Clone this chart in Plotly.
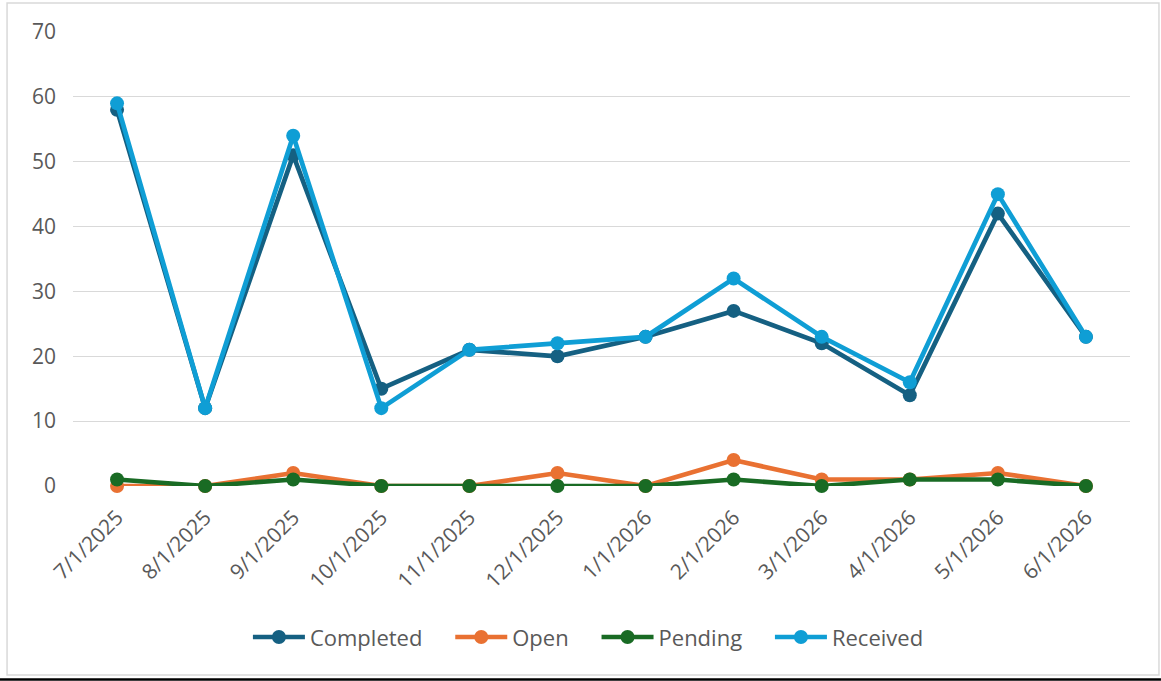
import plotly.graph_objects as go

categories = ["7/1/2025", "8/1/2025", "9/1/2025", "10/1/2025", "11/1/2025", "12/1/2025",
              "1/1/2026", "2/1/2026", "3/1/2026", "4/1/2026", "5/1/2026", "6/1/2026"]
completed = [58, 12, 51, 15, 21, 20, 23, 27, 22, 14, 42, 23]
open_ = [0, 0, 2, 0, 0, 2, 0, 4, 1, 1, 2, 0]
pending = [1, 0, 1, 0, 0, 0, 0, 1, 0, 1, 1, 0]
received = [59, 12, 54, 12, 21, 22, 23, 32, 23, 16, 45, 23]
y_ticks = [0, 10, 20, 30, 40, 50, 60, 70]

series = [
    ("Completed", completed, "#156082"),
    ("Open", open_, "#E97132"),
    ("Pending", pending, "#196B24"),
    ("Received", received, "#0F9ED5"),
]

pad = "\u00a0" * 4
fig = go.Figure()
for name, vals, color in series:
    fig.add_trace(go.Scatter(
        x=categories, y=vals, name=name + pad, mode="lines+markers",
        line=dict(color=color, width=4.7),
        marker=dict(color=color, size=14),
        cliponaxis=False,
    ))

font_family = "Open Sans, Lato, sans-serif"
fig.update_layout(
    width=1161, height=681,
    margin=dict(l=73, r=31, t=32, b=195),
    paper_bgcolor="white", plot_bgcolor="white",
    font=dict(family=font_family, size=21, color="#595959"),
    showlegend=True,
    legend=dict(orientation="h", x=0.4985, xanchor="center", y=-0.333, yanchor="middle",
                font=dict(size=22, color="#595959"), itemwidth=52, tracegroupgap=0),
    xaxis=dict(type="category", range=[-0.5, 11.5], showgrid=False, showline=False,
               zeroline=False, tickangle=-45, ticks="", tickfont=dict(size=21),
               ticklabelstandoff=14),
    yaxis=dict(range=[0, 70], tickvals=y_ticks, showgrid=True, gridcolor="#D9D9D9",
               gridwidth=1.3, zeroline=False, showline=False, ticks="",
               tickfont=dict(size=21), ticklabelstandoff=16),
    shapes=[
        dict(type="rect", xref="paper", yref="paper", x0=-0.0624, x1=1.0274,
             y0=-0.4163, y1=1.0639, line=dict(color="#D9D9D9", width=1.5), layer="below"),
        dict(type="line", xref="paper", yref="paper", x0=-0.0691, x1=1.0293,
             y0=-0.4262, y1=-0.4262, line=dict(color="black", width=2.5)),
    ],
)

fig.write_html("out.html", config={"displayModeBar": False},
               post_script="document.body.style.margin='0';document.body.style.overflow='hidden';")
